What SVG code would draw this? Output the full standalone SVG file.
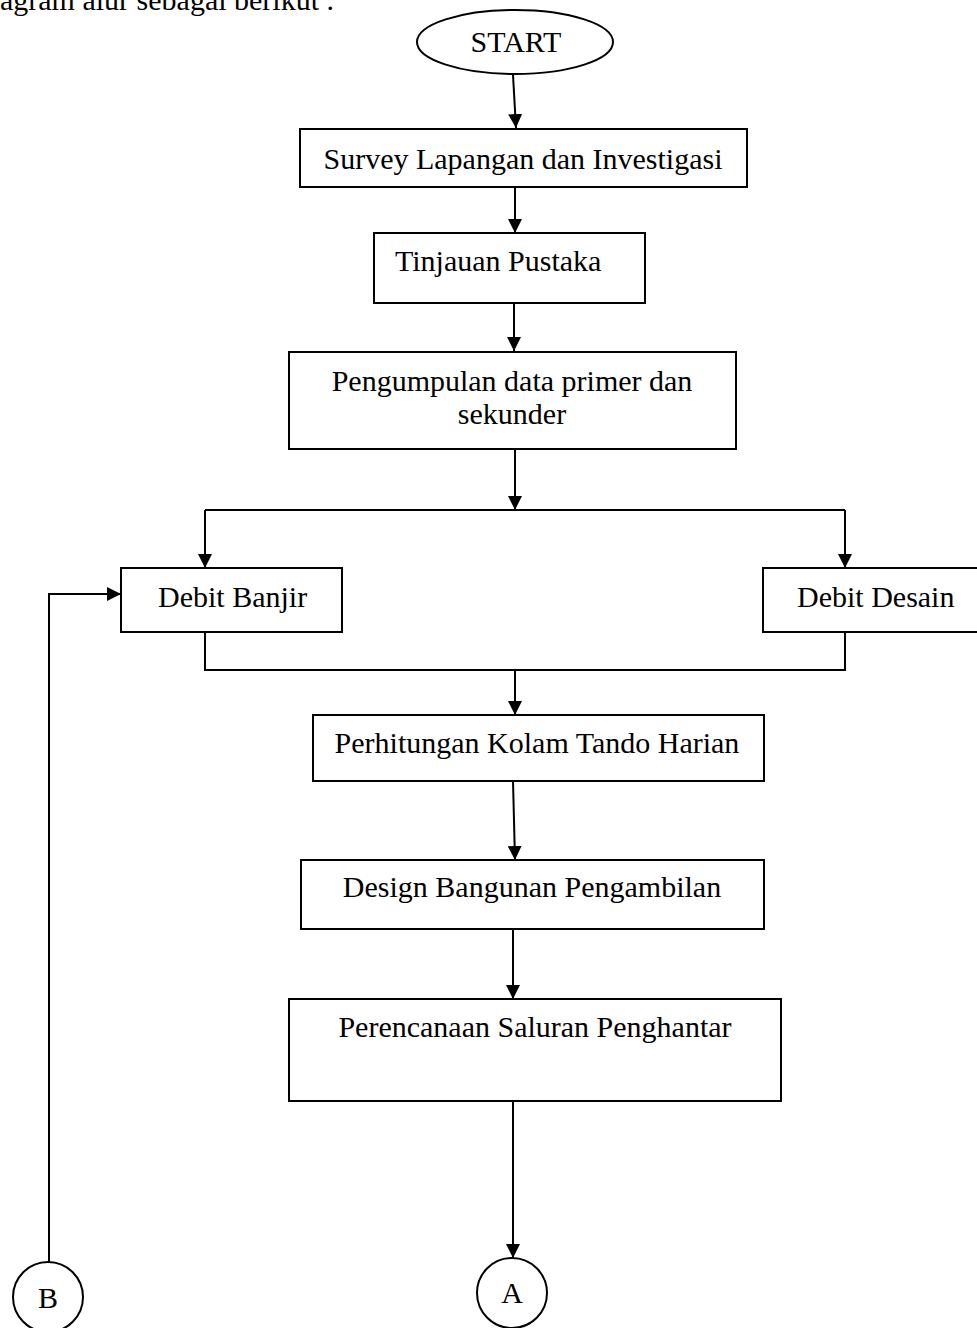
<svg xmlns="http://www.w3.org/2000/svg" width="977" height="1328" viewBox="0 0 977 1328">
  <style>
    .box { fill: #ffffff; stroke: #000000; stroke-width: 2; }
    .ln { fill: none; stroke: #000000; stroke-width: 2; }
    .t { font-family: "Liberation Serif", "Times New Roman", serif; font-size: 30px; fill: #000000; }
    .c { text-anchor: middle; }
  </style>
  <defs>
    <marker id="arr" markerUnits="userSpaceOnUse" markerWidth="14" markerHeight="14" refX="14" refY="7" orient="auto">
      <path d="M0,0 L14,7 L0,14 Z" fill="#000000"/>
    </marker>
  </defs>
  <rect width="977" height="1328" fill="#ffffff"/>
  <text class="t" x="0" y="10">agram alur sebagai berikut .</text>

  <g id="connectors">
    <line class="ln" x1="513" y1="75" x2="516" y2="128" marker-end="url(#arr)"/>
    <line class="ln" x1="515" y1="187" x2="515" y2="233" marker-end="url(#arr)"/>
    <line class="ln" x1="514" y1="303" x2="514" y2="351" marker-end="url(#arr)"/>
    <line class="ln" x1="515" y1="449" x2="515" y2="510" marker-end="url(#arr)"/>
    <line class="ln" x1="205" y1="510" x2="845" y2="510"/>
    <line class="ln" x1="205" y1="510" x2="205" y2="568" marker-end="url(#arr)"/>
    <line class="ln" x1="845" y1="510" x2="845" y2="568" marker-end="url(#arr)"/>
    <polyline class="ln" points="205,632 205,670 845,670 845,632"/>
    <line class="ln" x1="515" y1="670" x2="515" y2="715" marker-end="url(#arr)"/>
    <line class="ln" x1="513" y1="781" x2="515" y2="860" marker-end="url(#arr)"/>
    <line class="ln" x1="513" y1="929" x2="513" y2="999" marker-end="url(#arr)"/>
    <line class="ln" x1="513" y1="1101" x2="513" y2="1258" marker-end="url(#arr)"/>
    <polyline class="ln" points="49,1262 49,594 121,594" marker-end="url(#arr)"/>
  </g>

  <g id="start">
    <ellipse class="box" cx="515" cy="42" rx="98" ry="32"/>
    <text class="t c" x="516" y="52">START</text>
  </g>
  <g id="survey">
    <rect class="box" x="300" y="129" width="447" height="58"/>
    <text class="t c" x="523" y="169">Survey Lapangan dan Investigasi</text>
  </g>
  <g id="tinjauan">
    <rect class="box" x="374" y="233" width="271" height="70"/>
    <text class="t" x="395" y="271">Tinjauan Pustaka</text>
  </g>
  <g id="pengumpulan">
    <rect class="box" x="289" y="352" width="447" height="97"/>
    <text class="t c" x="512" y="391">Pengumpulan data primer dan</text>
    <text class="t c" x="512" y="424">sekunder</text>
  </g>
  <g id="debit-banjir">
    <rect class="box" x="121" y="568" width="221" height="64"/>
    <text class="t" x="158" y="607">Debit Banjir</text>
  </g>
  <g id="debit-desain">
    <rect class="box" x="763" y="568" width="216" height="64"/>
    <text class="t" x="797" y="607">Debit Desain</text>
  </g>
  <g id="perhitungan">
    <rect class="box" x="313" y="715" width="451" height="66"/>
    <text class="t c" x="537" y="753">Perhitungan Kolam Tando Harian</text>
  </g>
  <g id="design">
    <rect class="box" x="301" y="860" width="463" height="69"/>
    <text class="t c" x="532" y="897">Design Bangunan Pengambilan</text>
  </g>
  <g id="perencanaan">
    <rect class="box" x="289" y="999" width="492" height="102"/>
    <text class="t c" x="535" y="1037">Perencanaan Saluran Penghantar</text>
  </g>
  <g id="conn-a">
    <circle class="box" cx="512" cy="1293" r="35"/>
    <text class="t c" x="512" y="1303">A</text>
  </g>
  <g id="conn-b">
    <circle class="box" cx="48" cy="1297" r="35"/>
    <text class="t c" x="48" y="1308">B</text>
  </g>
</svg>
